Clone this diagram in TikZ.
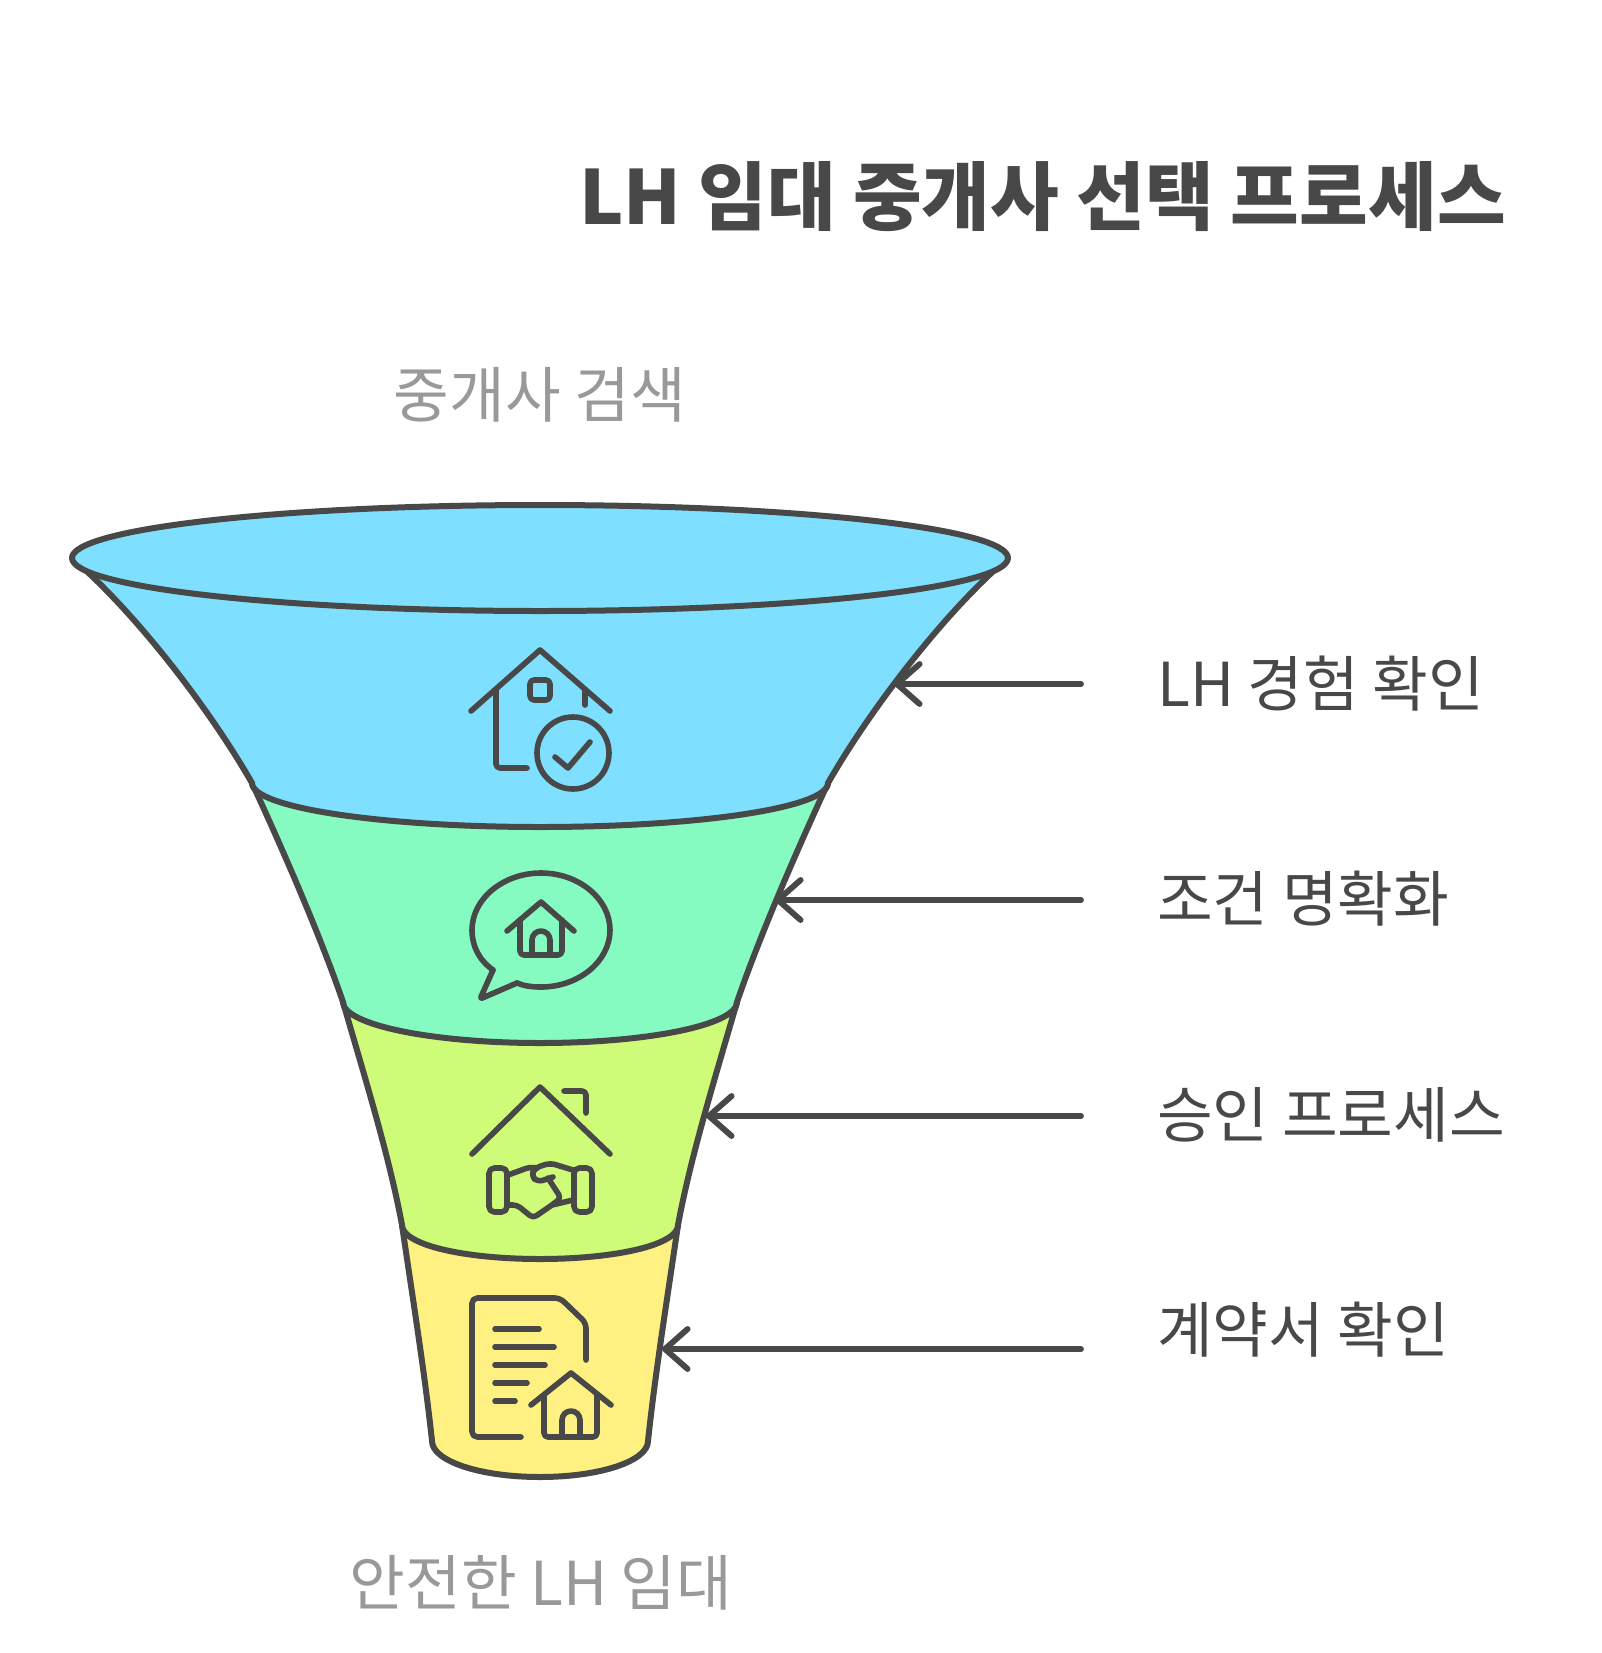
\documentclass[tikz,border=0pt]{standalone}
\usepackage{fontspec}
\setmainfont{Noto Sans CJK KR}
\usetikzlibrary{arrows.meta,positioning}
\definecolor{ink}{HTML}{484848}
\definecolor{soft}{HTML}{999999}
\definecolor{skyband}{HTML}{7EDFFF}
\definecolor{mintband}{HTML}{86FBC1}
\definecolor{limeband}{HTML}{CEFB78}
\definecolor{sunband}{HTML}{FFF181}
\tikzstyle{band}=[draw=ink,line width=4.5pt,line join=round]
\tikzstyle{icon}=[draw=ink,line width=4.2pt,line cap=round,line join=round]
\tikzstyle{pointer}=[draw=ink,line width=4.4pt,line cap=round,-{Straight Barb[round,length=17pt,width=30pt,line width=4.4pt]}]
\tikzstyle{steplabel}=[anchor=west,text=ink,font=\fontsize{45.4}{52}\selectfont,inner sep=0pt]
\tikzstyle{endlabel}=[text=soft,font=\fontsize{45.4}{52}\selectfont,inner sep=0pt]
\begin{document}
\begin{tikzpicture}[x=0.75pt,y=-0.75pt]
    \useasboundingbox (0,0) rectangle (1602,1653);
    
    % funnel, bottom band first
    \path[band,fill=sunband] (402,1225) .. controls (413,1300) and (425,1375) .. (432,1441)
    .. controls (432,1461) and (480,1477) .. (540,1477) .. controls (600,1477) and (648,1461) .. (648,1441)
    .. controls (655,1375) and (667,1300) .. (678,1225) -- cycle;
    \path[band,fill=limeband] (343,1002) .. controls (364,1075) and (389,1155) .. (402,1225)
    .. controls (402,1245) and (465,1259) .. (540,1259) .. controls (615,1259) and (678,1245) .. (678,1225)
    .. controls (691,1155) and (716,1075) .. (737,1002) -- cycle;
    \path[band,fill=mintband] (252,783) .. controls (283,850) and (320,935) .. (343,1002)
    .. controls (343,1025) and (433,1043) .. (540,1043) .. controls (647,1043) and (737,1025) .. (737,1002)
    .. controls (760,935) and (797,850) .. (828,783) -- cycle;
    \path[band,fill=skyband] (72,558) .. controls (135,612) and (209,708) .. (252,783)
    .. controls (252,808) and (383,827) .. (540,827) .. controls (697,827) and (828,808) .. (828,783)
    .. controls (871,708) and (945,612) .. (1008,558) -- cycle;
    \path[band,fill=skyband] (540,558) ellipse [x radius=468,y radius=53];
    
    % house with check
    \path[icon] (471,711) -- (540,650) -- (610,711);
    \path[icon,rounded corners=3pt] (496,690) -- (496,768) -- (527,768);
    \path[icon] (585,692) -- (585,705);
    \path[icon,rounded corners=3pt] (530,680) rectangle (550,700);
    \path[icon] (573,753) circle [radius=36];
    \path[icon] (555,757) -- (568,768) -- (590,742);
    
    % speech bubble with house
    \path[icon,rounded corners=2pt] (517,983) -- (480,999) -- (493,970);
    \path[icon] (493,970) .. controls (479,960) and (472,946) .. (472,930)
    .. controls (472,899) and (503,873) .. (541,873) .. controls (579,873) and (610,899) .. (610,930)
    .. controls (610,961) and (579,987) .. (541,987) .. controls (532,987) and (524,986) .. (517,983);
    \path[icon] (507,931) -- (541,902) -- (574,931);
    \path[icon,rounded corners=3pt] (520,920) -- (520,955) -- (562,955) -- (562,920);
    \path[icon] (532,955) -- (532,940) arc [start angle=180,end angle=360,radius=9] -- (550,955);
    
    % house with handshake
    \path[icon] (472,1154) -- (540,1087) -- (610,1154);
    \path[icon,rounded corners=3pt] (564,1091) -- (586,1091) -- (586,1113);
    \path[icon,rounded corners=4pt] (489,1168) rectangle (507,1212);
    \path[icon,rounded corners=4pt] (574,1168) rectangle (592,1212);
    \path[icon,rounded corners=3pt] (508,1175) -- (530,1167) -- (537,1168);
    \path[icon,rounded corners=3pt] (508,1205) -- (517,1205) -- (533,1218) -- (552,1205) -- (561,1198) -- (548,1178);
    \path[icon,rounded corners=4pt] (553,1177) -- (538,1182) -- (531,1176) -- (535,1168) -- (550,1163) -- (573,1170);
    \path[icon] (552,1205) -- (573,1200);
    
    % contract with house
    \path[icon,rounded corners=4pt] (521,1437) -- (472,1437) -- (472,1298) -- (560,1298) -- (586,1323) -- (586,1360);
    \path[icon] (495,1329) -- (539,1329);
    \path[icon] (495,1347) -- (554,1347);
    \path[icon] (495,1365) -- (545,1365);
    \path[icon] (495,1383) -- (527,1383);
    \path[icon] (495,1401) -- (515,1401);
    \path[icon] (531,1405) -- (571,1373) -- (611,1405);
    \path[icon,rounded corners=3pt] (544,1395) -- (544,1437) -- (597,1437) -- (597,1395);
    \path[icon] (562,1437) -- (562,1420) arc [start angle=180,end angle=360,radius=9] -- (580,1437);
    
    % texts
    \node[anchor=west,text=ink,inner sep=0pt,font=\fontsize{56}{64}\selectfont\bfseries] (title) at (579,197) {LH 임대 중개사 선택 프로세스};
    \node[endlabel] (top) at (540,395) {중개사 검색};
    \node[endlabel] (bottom) at (541,1583) {안전한 LH 임대};
    \node[steplabel] (check) at (1157,684) {LH 경험 확인};
    \node[steplabel] (clear) at (1157,899) {조건 명확화};
    \node[steplabel] (approve) at (1157,1115) {승인 프로세스};
    \node[steplabel] (contract) at (1157,1330) {계약서 확인};
    
    % pointers
    \coordinate (tailA) at (1081,684);
    \coordinate (tipA) at (894,684);
    \coordinate (tailB) at (1081,900);
    \coordinate (tipB) at (775,900);
    \coordinate (tailC) at (1081,1116);
    \coordinate (tipC) at (706,1116);
    \coordinate (tailD) at (1081,1349);
    \coordinate (tipD) at (662,1349);
    \path[pointer] (tailA) -- (tipA);
    \path[pointer] (tailB) -- (tipB);
    \path[pointer] (tailC) -- (tipC);
    \path[pointer] (tailD) -- (tipD);
    
\end{tikzpicture}
\end{document}
